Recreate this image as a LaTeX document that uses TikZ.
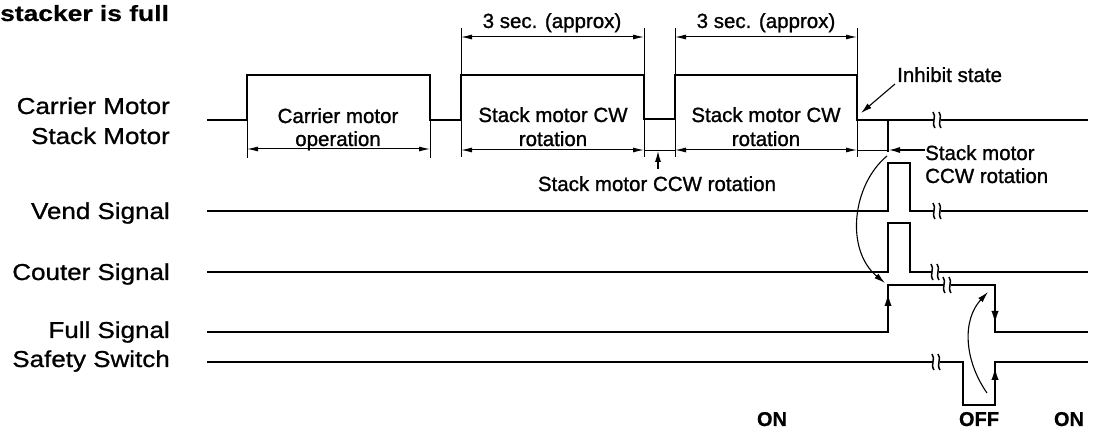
\documentclass[tikz,border=0pt]{standalone}
\usepackage{fontspec}
\setmainfont{Liberation Sans}
\newfontfamily\labfont[FakeStretch=1.13,FakeBold=0.9]{Liberation Sans}
\newfontfamily\txtfont[FakeBold=1.1]{Liberation Sans}
\newfontfamily\headfont[FakeStretch=1.2,FakeBold=0.6]{Liberation Sans Bold}
\newfontfamily\bldfont[FakeBold=0.6]{Liberation Sans Bold}
\usetikzlibrary{arrows.meta}
\begin{document}
\begin{tikzpicture}[x=1pt,y=-1pt,
  sig/.style={line width=2.8pt, line join=miter},
  thinl/.style={line width=0.9pt},
  dimarr/.style={line width=1pt, {Latex[length=11pt,width=5pt]}-{Latex[length=11pt,width=5pt]}},
  ptr/.style={line width=1.1pt, -{Latex[length=11pt,width=6pt]}},
  lab/.style={font=\labfont\fontsize{23}{27}\selectfont, inner sep=0pt, anchor=base east},
  txt/.style={font=\txtfont\fontsize{20.5}{24}\selectfont, inner sep=0pt},
  bld/.style={font=\bldfont\fontsize{20}{24}\selectfont, inner sep=0pt, anchor=base},
  brk/.pic={
    \fill[white] (-3.5,-6) rectangle (3.5,6);
    \draw[line width=1.5pt] (-4,-8) .. controls (0,-3) and (-6,2) .. (-2,8);
    \draw[line width=1.5pt] (2,-8) .. controls (6,-3) and (0,2) .. (4,8);
  }
]
\useasboundingbox (0,0) rectangle (1096,430);

% heading
\node[font=\headfont\fontsize{22}{26}\selectfont, inner sep=0pt, anchor=base west] (head) at (0,21) {stacker is full};

% left labels
\node[lab] (lcar) at (170,114) {Carrier Motor};
\node[lab] (lstk) at (170,144) {Stack Motor};
\node[lab] (lvend) at (170,219) {Vend Signal};
\node[lab] (lcout) at (170,280) {Couter Signal};
\node[lab] (lfull) at (170,338) {Full Signal};
\node[lab] (lsafe) at (170,367) {Safety Switch};

% extension lines
\draw[thinl] (247,120) -- (247,158);
\draw[thinl] (430,120) -- (430,158);
\draw[thinl] (461,28) -- (461,157);
\draw[thinl] (644,28) -- (644,157);
\draw[thinl] (675,28) -- (675,157);
\draw[thinl] (857,28) -- (857,157);
\draw[line width=1.4pt] (888,120) -- (888,152);

% dimension arrows
\draw[dimarr] (461,37) -- (644,37);
\draw[dimarr] (675,37) -- (857,37);
\draw[dimarr] (247,149) -- (430,149);
\draw[dimarr] (461,150) -- (644,150);
\draw[dimarr] (675,150) -- (857,150);
\draw[thinl] (644,150) -- (675,150);
\draw[line width=0.6pt] (857,150) -- (888,150);

\node[txt, anchor=base] (t3a) at (552,28) {3 sec. (approx)};
\node[txt, anchor=base] (t3b) at (766,28) {3 sec. (approx)};

% carrier / stack motor waveform
\draw[sig] (207,120) -- (247,120) -- (247,75) -- (430,75) -- (430,120) -- (461,120)
  -- (461,75) -- (644,75) -- (644,119) -- (675,119) -- (675,75) -- (857,75)
  -- (857,120) -- (1088,120);

\node[txt, anchor=base] (tc1) at (338,123) {Carrier motor};
\node[txt, anchor=base] (tc2) at (338,146) {operation};
\node[txt, anchor=base] (tw1) at (553,122) {Stack motor CW};
\node[txt, anchor=base] (tw2) at (553,146) {rotation};
\node[txt, anchor=base] (tw3) at (766,122) {Stack motor CW};
\node[txt, anchor=base] (tw4) at (766,146) {rotation};

% CCW rotation note (bottom)
\node[txt, anchor=base] (tccw) at (657,191) {Stack motor CCW rotation};
\coordinate (ccwtip) at (658,151);
\draw[ptr] (658,169) -- (ccwtip);

% inhibit state
\node[txt, anchor=base west] (tinh) at (897,82) {Inhibit state};
\coordinate (inhtip) at (861,113);
\draw[ptr] (895,84) -- (inhtip);

% stack motor CCW rotation (right)
\node[txt, anchor=base west] (tsm1) at (925,160) {Stack motor};
\node[txt, anchor=base west] (tsm2) at (925,183) {CCW rotation};
\coordinate (ccw2tip) at (889,150);
\draw[ptr] (925,150) -- (ccw2tip);

% other waveforms
\draw[sig] (207,211) -- (888,211) -- (888,163) -- (910,163) -- (910,211) -- (1088,211);
\draw[sig] (207,272) -- (888,272) -- (888,223) -- (910,223) -- (910,272) -- (1088,272);
\draw[sig] (207,332) -- (888,332) -- (888,285) -- (995,285) -- (995,332) -- (1088,332);
\draw[sig] (207,362) -- (963,362) -- (963,405) -- (995,405) -- (995,362) -- (1088,362);

% edge arrows
\draw[-{Latex[length=11pt,width=7pt]}, line width=0.1pt] (888,309) -- (888,295);
\draw[-{Latex[length=11pt,width=7pt]}, line width=0.1pt] (995,308) -- (995,322);
\draw[-{Latex[length=11pt,width=7pt]}, line width=0.1pt] (995,384) -- (995,369);

% curved arrows
\draw[ptr] (887,156) .. controls (852,185) and (845,250) .. (885,283);
\draw[ptr] (987,393) .. controls (964,360) and (962,320) .. (988,292);

% breaks
\pic at (937,120) {brk};
\pic at (937,211) {brk};
\pic at (935,272) {brk};
\pic at (947,285) {brk};
\pic at (936,362) {brk};

% ON / OFF
\node[bld] (on1) at (772,426) {ON};
\node[bld] (off) at (979,426) {OFF};
\node[bld] (on2) at (1069,426) {ON};
\end{tikzpicture}
\end{document}
